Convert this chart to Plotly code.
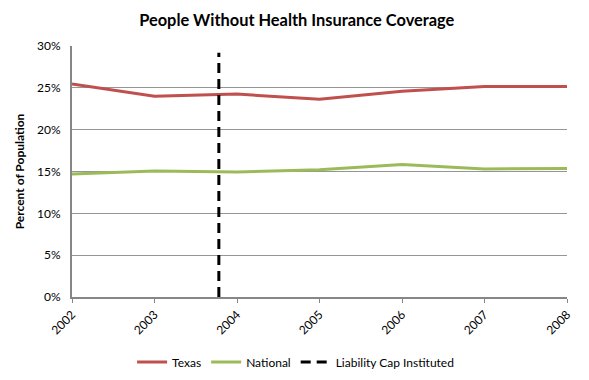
import plotly.graph_objects as go

years = [2002, 2003, 2004, 2005, 2006, 2007, 2008]
texas = [25.45, 24.0, 24.25, 23.65, 24.6, 25.15, 25.15]
national = [14.7, 15.05, 14.95, 15.2, 15.85, 15.3, 15.35]
cap_x = [2003.78, 2003.78]
cap_y = [0, 29.2]
y_ticks = [0, 5, 10, 15, 20, 25, 30]
y_tick_labels = ["0%", "5%", "10%", "15%", "20%", "25%", "30%"]

font = "Lato, 'Open Sans', sans-serif"

fig = go.Figure()
fig.add_trace(go.Scatter(x=years, y=texas, mode="lines", name="Texas",
                         line=dict(color="#C0504D", width=3)))
fig.add_trace(go.Scatter(x=years, y=national, mode="lines", name="National",
                         line=dict(color="#9BBB59", width=3)))
fig.add_trace(go.Scatter(x=cap_x, y=cap_y, mode="lines", name="Liability Cap Instituted",
                         line=dict(color="black", width=3, dash="10px,6px")))

fig.update_layout(
    width=581, height=372,
    margin=dict(l=64, r=22, t=38, b=83),
    paper_bgcolor="white", plot_bgcolor="white",
    font=dict(family=font, size=12, color="black"),
    title=dict(text="<b>People Without Health Insurance Coverage</b>", x=0.497, xanchor="center",
               y=0.968, yanchor="middle", font=dict(size=16.4)),
    showlegend=True,
    legend=dict(orientation="h", xref="container", yref="container",
                x=0.495, xanchor="center", y=0.0484, yanchor="middle",
                font=dict(size=12), itemwidth=30),
)
fig.update_xaxes(range=[2002, 2008], tickvals=years, ticktext=[str(y) for y in years],
                 tickangle=-45, showgrid=False, showline=True, linecolor="#868686", linewidth=2,
                 ticks="outside", ticklen=4, tickcolor="#868686", zeroline=False,
                 tickfont=dict(size=12), automargin=False)
fig.update_yaxes(range=[0, 30], tickvals=y_ticks, ticktext=y_tick_labels,
                 showgrid=True, gridcolor="#959595", gridwidth=1,
                 showline=True, linecolor="#868686", linewidth=2, zeroline=False,
                 ticklabelstandoff=7,
                 title=dict(text="<b>Percent of Population</b>", font=dict(size=12), standoff=10),
                 tickfont=dict(size=12), automargin=False)

fig.write_html("out.html")
